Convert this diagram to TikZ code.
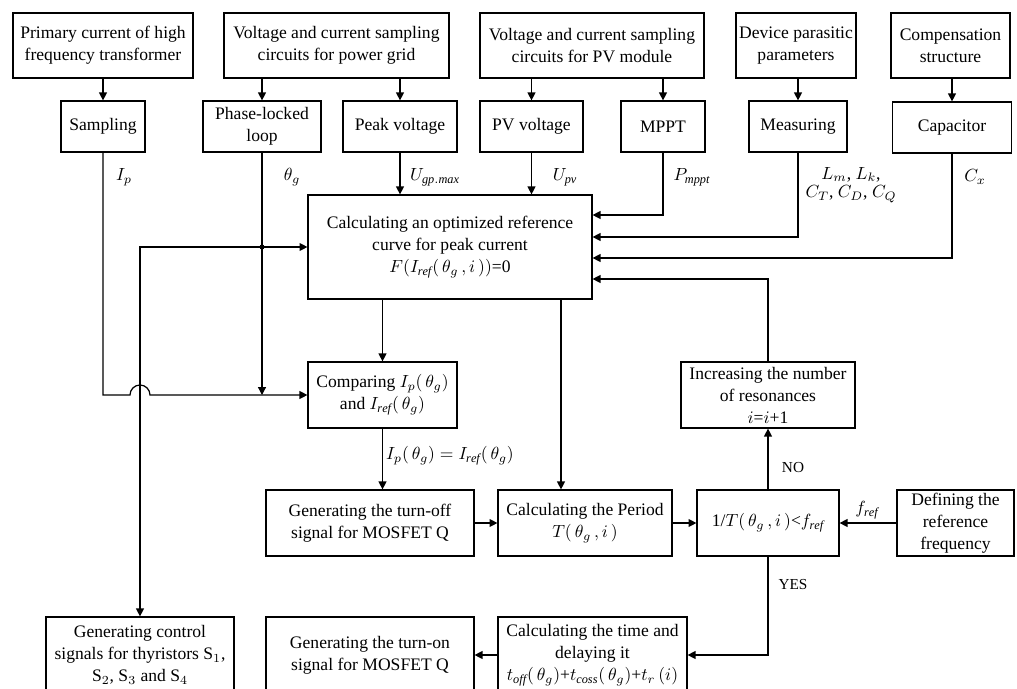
\documentclass[tikz,border=0pt]{standalone}
\usepackage{fontspec}
\setmainfont{Liberation Serif}
\usetikzlibrary{arrows.meta}

\begin{document}
\begin{tikzpicture}[x=0.02cm, y=0.02cm, line width=0.7pt,
		>={Triangle[length=4.5pt,width=4.5pt]},
		box/.style={draw, align=center, inner sep=0pt, font=\fontsize{10}{12.5}\selectfont},
		lbl/.style={inner sep=0pt, font=\fontsize{10}{10.6}\selectfont},
		tag/.style={inner sep=0pt, font=\fontsize{8.7}{10}\selectfont}]

		\useasboundingbox (0,0) rectangle (1017,-689);
		\clip (0,0) rectangle (1017,-689);

		% sources
		\node[box, minimum width=3.6cm, minimum height=1.3cm] (prim) at (103,-45.5) {Primary current of high\\frequency transformer};
		\node[box, minimum width=4.5cm, minimum height=1.3cm] (gridsc) at (336.5,-45.5) {Voltage and current sampling\\circuits for power grid};
		\node[box, minimum width=4.48cm, minimum height=1.3cm] (pvsc) at (592,-45.5) {Voltage and current sampling\\circuits for PV module};
		\node[box, minimum width=2.4cm, minimum height=1.3cm] (para) at (796,-45.5) {Device parasitic\\parameters};
		\node[box, minimum width=2.38cm, minimum height=1.3cm] (comp) at (950.5,-45.5) {Compensation\\structure};

		\node[box, minimum width=1.68cm, minimum height=1.02cm] (samp) at (103,-126.5) {Sampling};
		\node[box, minimum width=2.36cm, minimum height=1.02cm] (pll) at (262,-126.5) {Phase-locked\\loop};
		\node[box, minimum width=2.28cm, minimum height=1.02cm] (peak) at (400,-126.5) {Peak voltage};
		\node[box, minimum width=2.06cm, minimum height=1.02cm] (pvv) at (531.5,-126.5) {PV voltage};
		\node[box, minimum width=1.68cm, minimum height=1.02cm] (mppt) at (663,-126.5) {MPPT};
		\node[box, minimum width=1.96cm, minimum height=1.02cm] (meas) at (798,-126.5) {Measuring};
		\node[box, minimum width=2.38cm, minimum height=1.02cm] (cap) at (952,-127.5) {Capacitor};

		% processing
		\node[box, minimum width=5.68cm, minimum height=2.08cm] (big) at (450,-247) {Calculating an optimized reference\\curve for peak current\\$F(I_{\mathit{ref}}(\,\theta_g\,, i\,))$=0};
		\node[box, minimum width=2.98cm, minimum height=1.32cm] (cmpr) at (382.5,-395) {Comparing $I_p(\,\theta_g)$\\and $I_{\mathit{ref}}(\,\theta_g)$};
		\node[box, minimum width=3.48cm, minimum height=1.32cm] (incr) at (768,-395) {Increasing the number\\of resonances\\$i$=$i$+1};

		\node[box, minimum width=4.16cm, minimum height=1.32cm] (toff) at (370,-523) {Generating the turn-off\\signal for MOSFET Q};
		\node[box, minimum width=3.48cm, minimum height=1.32cm] (period) at (585,-523) {Calculating the Period\\$T(\,\theta_g\,, i\,)$};
		\node[box, minimum width=2.84cm, minimum height=1.32cm] (cond) at (768,-523) {1/$T(\,\theta_g\,, i\,)$<$f_{\mathit{ref}}$};
		\node[box, minimum width=2.34cm, minimum height=1.32cm] (defn) at (955.5,-523) {Defining the\\reference\\frequency};

		\node[box, minimum width=3.76cm, minimum height=1.52cm] (thy) at (140,-655) {Generating control\\signals for thyristors S$_1$,\\S$_2$, S$_3$ and S$_4$};
		\node[box, minimum width=4.16cm, minimum height=1.52cm] (ton) at (370,-655) {Generating the turn-on\\signal for MOSFET Q};
		\node[box, minimum width=3.78cm, minimum height=1.52cm] (time) at (592.5,-655) {Calculating the time and\\delaying it\\$t_{\mathit{off}}(\,\theta_g)$+$t_{\mathit{coss}}(\,\theta_g)$+$t_r\,(i)$};

		% top arrows
		\draw[->] (prim.south) -- (samp.north);
		\draw[->] (gridsc.south -| pll.north) -- (pll.north);
		\draw[->] (gridsc.south -| peak.north) -- (peak.north);
		\draw[->] (pvsc.south -| pvv.north) -- (pvv.north);
		\draw[->] (pvsc.south -| mppt.north) -- (mppt.north);
		\draw[->] (para.south -| meas.north) -- (meas.north);
		\draw[->] (comp.south -| cap.north) -- (cap.north);

		\draw[->] (peak.south) -- (peak.south |- big.north);
		\draw[->] (pvv.south) -- (pvv.south |- big.north);
		\draw[->] (mppt.south) |- ([yshift=0.64cm]big.east);
		\draw[->] (meas.south) |- ([yshift=0.2cm]big.east);
		\draw[->] (cap.south) |- ([yshift=-0.22cm]big.east);
		\draw[->] (incr.north) |- ([yshift=-0.64cm]big.east);

		% left side
		\coordinate (tap) at (pll.south |- big.west);
		\coordinate (jmp) at (thy.north |- cmpr.west);
		\draw[->] (pll.south) -- (pll.south |- cmpr.west);
		\draw[->] (tap) -- (big.west);
		\draw[->] (tap) -| (thy.north);
		\fill (tap) circle (2.5);
		\draw[->] (samp.south) |- ([xshift=-0.2cm]jmp) arc[start angle=180, end angle=0, radius=10] -- (cmpr.west);

		% loop
		\coordinate (pd) at (561,0);
		\draw[->] (big.south -| cmpr.north) -- (cmpr.north);
		\draw[->] (cmpr.south) -- (cmpr.south |- toff.north);
		\draw[->] (big.south -| pd) -- (period.north -| pd);
		\draw[->] (toff.east) -- (period.west);
		\draw[->] (period.east) -- (cond.west);
		\draw[->] (defn.west) -- (cond.east);
		\draw[->] (cond.north) -- (incr.south);
		\draw[->] (cond.south) |- (time.east);
		\draw[->] (time.west) -- (ton.east);

		% labels
		\node[lbl] (lIp) at (124,-177) {$I_p$};
		\node[lbl] (lth) at (292,-177) {$\theta_g$};
		\node[lbl] (lUg) at (435,-177) {$U_{\mathit{gp.max}}$};
		\node[lbl] (lUp) at (565,-177) {$U_{\mathit{pv}}$};
		\node[lbl] (lPm) at (692,-177) {$P_{\mathit{mppt}}$};
		\node[lbl, align=center] (lLC) at (851,-185) {$L_m$, $L_k$,\\$C_T$, $C_D$, $C_Q$};
		\node[lbl] (lCx) at (975,-177) {$C_x$};
		\node[lbl] (leq) at (450,-456) {$I_p(\,\theta_g) = I_{\mathit{ref}}(\,\theta_g)$};
		\node[lbl] (lfr) at (867,-510) {$f_{\mathit{ref}}$};
		\node[tag] (lno) at (793,-468) {NO};
		\node[tag] (lyes) at (793,-585) {YES};
	\end{tikzpicture}
\end{document}
